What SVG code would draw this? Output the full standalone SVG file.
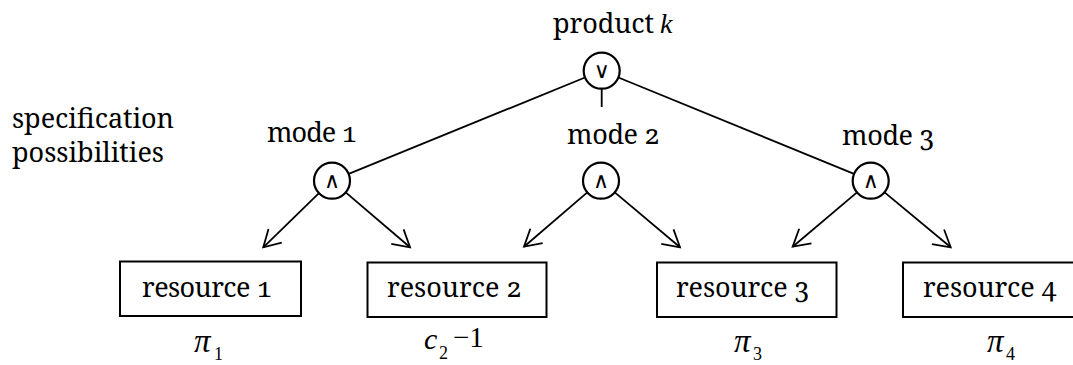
<svg xmlns="http://www.w3.org/2000/svg" width="1073" height="365" viewBox="0 0 1073 365">
<style>
.t{font-family:'Noto Serif','Liberation Serif',serif;font-size:27px;fill:#000;font-variant-numeric:oldstyle-nums;font-feature-settings:'onum' 1}
.m{font-family:'Liberation Serif',serif;font-style:italic;fill:#000}
.s{font-family:'Liberation Serif',serif;font-size:18px;fill:#000}
.op{font-family:'DejaVu Sans',sans-serif;font-size:22px;fill:#000;text-anchor:middle}
.c{fill:#fff;stroke:#000;stroke-width:2.2}
.b{fill:#fff;stroke:#000;stroke-width:2}
.l{stroke:#000;stroke-width:1.8;fill:none}
</style>
<defs>
<marker id="ah" markerUnits="userSpaceOnUse" markerWidth="30" markerHeight="30" refX="0" refY="0" orient="auto" overflow="visible">
<path d="M -16.5 -9.5 L 0 0 L -16.5 9.5" fill="none" stroke="#000" stroke-width="1.8"/>
</marker>
</defs>
<rect width="1073" height="365" fill="#fff"/>
<g id="connectors">
<line class="l" x1="585" y1="77.5" x2="348.7" y2="173.9"/>
<line class="l" x1="618.4" y1="77.5" x2="854" y2="173.9"/>
<line class="l" x1="601.7" y1="89" x2="601.7" y2="107"/>
<line class="l" x1="319" y1="193.2" x2="263.3" y2="247.3" marker-end="url(#ah)"/>
<line class="l" x1="345.7" y1="192.4" x2="410" y2="247.3" marker-end="url(#ah)"/>
<line class="l" x1="587.3" y1="192.4" x2="524" y2="246.7" marker-end="url(#ah)"/>
<line class="l" x1="614.8" y1="192.4" x2="680" y2="247.3" marker-end="url(#ah)"/>
<line class="l" x1="857" y1="192.4" x2="792.7" y2="246.7" marker-end="url(#ah)"/>
<line class="l" x1="884.6" y1="192.4" x2="950.7" y2="247.3" marker-end="url(#ah)"/>
</g>
<g id="label-spec">
<text class="t" x="12" y="128" textLength="162" lengthAdjust="spacing">specification</text>
<text class="t" x="12" y="162" textLength="152" lengthAdjust="spacing">possibilities</text>
</g>
<g id="product">
<text class="t" x="553" y="33" textLength="101" lengthAdjust="spacing">product</text>
<text class="m" x="660" y="33" font-size="28">k</text>
<circle class="c" cx="601.7" cy="70.7" r="18"/>
<text class="op" x="601.7" y="78">∨</text>
</g>
<g id="mode1">
<text class="t" x="267" y="142" textLength="90" lengthAdjust="spacing">mode 1</text>
<circle class="c" cx="332" cy="180.7" r="18"/>
<text class="op" x="332" y="188">∧</text>
</g>
<g id="mode2">
<text class="t" x="567" y="144" textLength="93" lengthAdjust="spacing">mode 2</text>
<circle class="c" cx="601" cy="180.7" r="18"/>
<text class="op" x="601" y="188">∧</text>
</g>
<g id="mode3">
<text class="t" x="842" y="145" textLength="93" lengthAdjust="spacing">mode 3</text>
<circle class="c" cx="870.7" cy="180.7" r="18"/>
<text class="op" x="870.7" y="188">∧</text>
</g>
<g id="resource1">
<rect class="b" x="120" y="261.5" width="181" height="54.5"/>
<text class="t" x="142" y="297" textLength="130" lengthAdjust="spacing">resource 1</text>
<text class="m" x="194" y="351.5" font-size="33">π</text>
<text class="s" x="214" y="360">1</text>
</g>
<g id="resource2">
<rect class="b" x="367.5" y="262.5" width="179" height="54.5"/>
<text class="t" x="387" y="297" textLength="135" lengthAdjust="spacing">resource 2</text>
<text class="m" x="424" y="348.5" font-size="30">c</text>
<text class="s" x="439" y="358.5">2</text>
<text class="s" x="453" y="346.5" style="font-size:29px">−1</text>
</g>
<g id="resource3">
<rect class="b" x="657" y="262.5" width="179.5" height="54.5"/>
<text class="t" x="676" y="297" textLength="134" lengthAdjust="spacing">resource 3</text>
<text class="m" x="734" y="351.5" font-size="33">π</text>
<text class="s" x="753" y="360">3</text>
</g>
<g id="resource4">
<rect class="b" x="903" y="262.5" width="180" height="54.5"/>
<text class="t" x="923" y="297" textLength="134" lengthAdjust="spacing">resource 4</text>
<text class="m" x="987" y="351.5" font-size="33">π</text>
<text class="s" x="1006" y="360">4</text>
</g>
</svg>
